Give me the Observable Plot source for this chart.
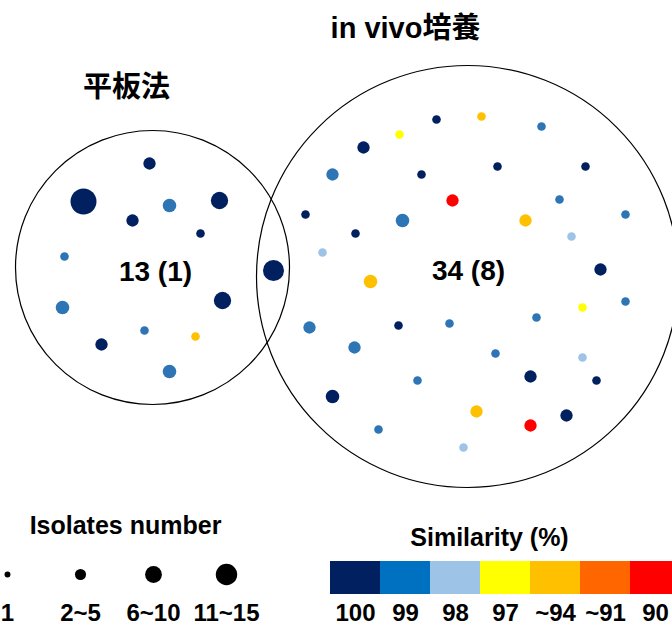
<!DOCTYPE html>
<html><head><meta charset="utf-8">
<script src="https://cdn.jsdelivr.net/npm/d3@7"></script>
<script src="https://cdn.jsdelivr.net/npm/@observablehq/plot@0.6"></script>
<style>
html,body{margin:0;padding:0;background:#fff;overflow:hidden;}
#chart{width:672px;}
.row{display:flex;width:672px;}
</style></head><body><div id="chart"></div>
<script>
// ---- Sets (Venn circles) ----
const setLabels = ["平板法", "in vivo培養"];
const setCounts = ["13 (1)", "34 (8)"];
const setCx = [152, 467];
const setCy = [267, 276];
const setRadius = [137, 211];
const setTitleX = [126, 405];
const setTitleY = [87, 28];
const setCountX = [155, 468];
const setCountY = [272, 271];

// ---- Similarity categories ----
const simLevels = ["100", "99", "98", "97", "~94", "~91", "90"];
const simValues = [100, 99, 98, 97, 94, 91, 90];

// ---- Isolate-size legend ----
const sizeLabels = ["1", "2~5", "6~10", "11~15"];
const sizeValues = [1, 3.5, 8, 13];

// ---- Dots: 平板法 only ----
const plateX = [149, 83, 169, 219, 132, 200, 64, 62, 222, 144, 195, 101, 169];
const plateY = [163, 201, 205, 200, 220, 233, 256, 307, 300, 330, 336, 344, 371];
const plateN = [4, 15, 5, 8, 4, 1, 1, 5, 8, 1, 1, 4, 5];
const plateSim = [100, 100, 99, 100, 100, 100, 99, 99, 100, 99, 94, 100, 99];

// ---- Dots: shared ----
const sharedX = [273];
const sharedY = [270];
const sharedN = [11];
const sharedSim = [100];

// ---- Dots: in vivo only ----
const vivoX = [436, 481, 399, 541, 363, 332, 421, 497, 585, 452, 559, 305, 402, 525, 625, 355, 322, 571, 600, 370,
               625, 582, 309, 398, 449, 536, 354, 495, 582, 417, 530, 596, 332, 476, 566, 530, 378, 463];
const vivoY = [119, 116, 134, 126, 147, 174, 174, 166, 166, 200, 199, 214, 220, 220, 214, 233, 252, 236, 269, 281,
               301, 307, 327, 325, 323, 317, 347, 353, 357, 380, 376, 380, 396, 411, 415, 425, 429, 447];
const vivoN = [1, 1, 1, 1, 4, 4, 1, 1, 1, 4, 1, 1, 5, 4, 1, 1, 1, 1, 4, 5,
               1, 1, 4, 1, 1, 1, 4, 1, 1, 1, 4, 1, 5, 4, 4, 4, 1, 1];
const vivoSim = [100, 94, 97, 99, 100, 99, 100, 100, 100, 90, 99, 100, 99, 94, 99, 100, 98, 98, 100, 94,
                 99, 97, 99, 100, 99, 99, 99, 99, 98, 99, 100, 100, 100, 94, 100, 90, 99, 98];

// colours
const dotPalette = ["#002060", "#2E75B6", "#9DC3E6", "#FFFF00", "#FFC000", "#FF6600", "#FF0000"];
const legendPalette = ["#002060", "#0070C0", "#9DC3E6", "#FFFF00", "#FFC000", "#FF6600", "#FF0000"];

const FONT = "'Liberation Sans', Arial, 'Noto Sans CJK JP', 'Noto Sans CJK SC', sans-serif";

function toRows(xs, ys, ns, ss, group) {
  return xs.map((x, i) => ({x, y: ys[i], n: ns[i], sim: ss[i], group}));
}
const dots = [
  ...toRows(plateX, plateY, plateN, plateSim, "plate"),
  ...toRows(sharedX, sharedY, sharedN, sharedSim, "shared"),
  ...toRows(vivoX, vivoY, vivoN, vivoSim, "vivo")
];
const sets = setLabels.map((label, i) => ({
  label, count: setCounts[i], cx: setCx[i], cy: setCy[i], radius: setRadius[i],
  tx: setTitleX[i], ty: setTitleY[i], kx: setCountX[i], ky: setCountY[i]
}));

const main = Plot.plot({
  width: 672, height: 490, margin: 0,
  style: {fontFamily: FONT, background: "#fff"},
  x: {domain: [0, 672], axis: null},
  y: {domain: [490, 0], axis: null},
  r: {type: "linear", domain: [1, 15], range: [4.3, 13]},
  color: {type: "ordinal", domain: simValues, range: dotPalette},
  marks: [
    ...sets.map(s => Plot.dot([s], {x: "cx", y: "cy", r: s.radius, stroke: "#000", strokeWidth: 1.2, fill: "none"})),
    Plot.dot(dots, {x: "x", y: "y", r: "n", fill: "sim"}),
    Plot.text(sets, {x: "tx", y: "ty", text: "label", fontSize: 29, fontWeight: "bold", fill: "#000"}),
    Plot.text(sets, {x: "kx", y: "ky", text: "count", fontSize: 28, fontWeight: "bold", fill: "#000"})
  ]
});

const sizeLegend = Plot.plot({
  width: 320, height: 135, margin: 0,
  style: {fontFamily: FONT, background: "#fff"},
  x: {type: "point", domain: sizeLabels, range: [6, 226], padding: 0, axis: null},
  y: {domain: [135, 0], axis: null},
  r: {type: "sqrt", domain: [0, 13], range: [0, 10.7]},
  marks: [
    Plot.text(["Isolates number"], {frameAnchor: "top-left", dx: 125, dy: 35, textAnchor: "middle", lineAnchor: "middle", text: d => d, fontSize: 25, fontWeight: "bold", fill: "#000"}),
    Plot.dot(sizeLabels, {x: d => d, y: () => 84, r: (d, i) => sizeValues[i], fill: "#000"}),
    Plot.text(sizeLabels, {x: d => d, y: () => 123, text: d => d, fontSize: 24, fontWeight: "bold", fill: "#000"})
  ]
});

const colorLegend = Plot.plot({
  width: 352, height: 135, margin: 0,
  style: {fontFamily: FONT, background: "#fff"},
  x: {type: "band", domain: simLevels, range: [7, 362], padding: 0, axis: null},
  y: {domain: [135, 0], axis: null},
  color: {type: "ordinal", domain: simLevels, range: legendPalette},
  marks: [
    Plot.text(["Similarity (%)"], {frameAnchor: "top-left", dx: 169, dy: 47, textAnchor: "middle", lineAnchor: "middle", text: d => d, fontSize: 25, fontWeight: "bold", fill: "#000"}),
    Plot.barY(simLevels, {x: d => d, y1: () => 71, y2: () => 104, fill: d => d, clip: true}),
    Plot.text(simLevels, {x: d => d, y: () => 123, text: d => d, fontSize: 24, fontWeight: "bold", fill: "#000"})
  ]
});

const chart = document.getElementById("chart");
chart.appendChild(main);
const row = document.createElement("div");
row.className = "row";
row.appendChild(sizeLegend);
row.appendChild(colorLegend);
chart.appendChild(row);
</script></body></html>
